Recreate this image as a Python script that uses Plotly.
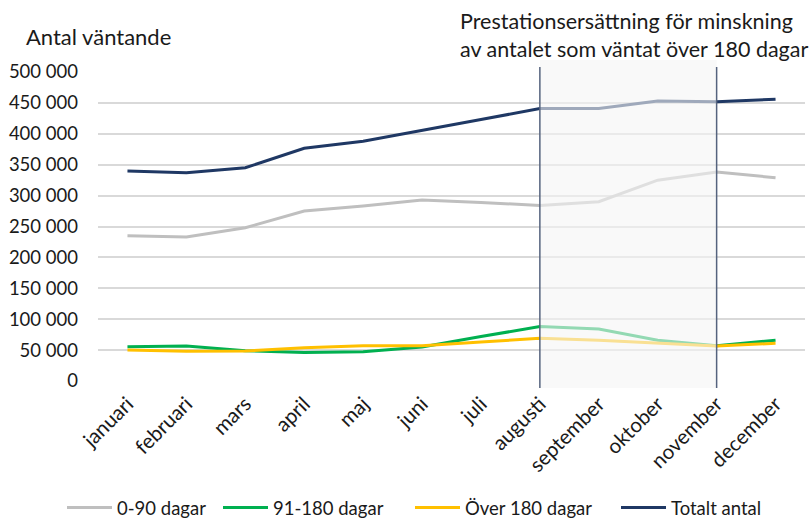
import plotly.graph_objects as go

months = ["januari", "februari", "mars", "april", "maj", "juni", "juli",
          "augusti", "september", "oktober", "november", "december"]
d0_90 = [235000, 233000, 248000, 275000, 283000, 293000, 289000, 284000, 290000, 325000, 338000, 329000]
d91_180 = [55500, 56600, 49000, 46000, 47500, 55000, 72000, 88000, 84000, 66000, 57000, 66000]
over180 = [50000, 48000, 48500, 54000, 57000, 57000, 63000, 69000, 66000, 61000, 56600, 61000]
totalt = [340000, 337000, 345000, 376500, 388000, 405000, 423000, 441000, 441000, 453000, 452000, 456000]
y_ticks = [0, 50000, 100000, 150000, 200000, 250000, 300000, 350000, 400000, 450000, 500000]
y_ticktext = ["0", "50 000", "100 000", "150 000", "200 000", "250 000", "300 000",
              "350 000", "400 000", "450 000", "500 000"]
series = [
    ("0-90 dagar", d0_90, "#bfbfbf"),
    ("91-180 dagar", d91_180, "#00b050"),
    ("Över 180 dagar", over180, "#ffc000"),
    ("Totalt antal", totalt, "#1f3864"),
]

FONT = "Lato, 'Open Sans', sans-serif"
L, R, T, B = 98, 5, 72, 140
W, H = 810, 521
pw = W - L - R
ph = H - T - B
legend_px = [62, 218, 410, 616]   # left pixel of each legend entry
legend_cy = 508                   # vertical centre of the legend row

fig = go.Figure()
layout_legends = {}
for i, (name, vals, col) in enumerate(series):
    lname = "legend" if i == 0 else f"legend{i+1}"
    fig.add_trace(go.Scatter(x=months, y=vals, name=name, mode="lines",
                             line=dict(color=col, width=3), legend=lname))
    layout_legends[lname] = dict(
        x=(legend_px[i] - L) / pw, xanchor="left",
        yref="paper", y=-(legend_cy - (T + ph)) / ph, yanchor="middle",
        font=dict(size=18.5, family=FONT, color="#1a1a1a"),
        bgcolor="rgba(0,0,0,0)", itemwidth=45)

x_start = months.index("augusti")
x_end = months.index("november")

fig.add_shape(type="rect", xref="x", yref="paper", x0=x_start, x1=x_end,
              y0=-0.023, y1=1.039, layer="above",
              fillcolor="rgba(245,245,245,0.6)", line=dict(width=0))
for xv in (x_start, x_end):
    fig.add_shape(type="line", xref="x", yref="paper", x0=xv, x1=xv,
                  y0=-0.023, y1=1.016, layer="above",
                  line=dict(color="#55637e", width=1.5))

fig.add_annotation(xref="paper", yref="paper", x=(458 - L) / pw, y=1.027,
                   xanchor="left", yanchor="bottom", align="left", showarrow=False,
                   text="Prestationsersättning för minskning<br>av antalet som väntat över 180 dagar",
                   font=dict(size=21.5, color="#1a1a1a", family=FONT))
fig.add_annotation(xref="paper", yref="paper", x=(24 - L) / pw, y=1.065,
                   xanchor="left", yanchor="bottom", showarrow=False,
                   text="Antal väntande", font=dict(size=22, color="#1a1a1a", family=FONT))

fig.update_layout(
    width=W, height=H,
    margin=dict(l=L, r=R, t=T, b=B, autoexpand=False),
    paper_bgcolor="white", plot_bgcolor="white",
    font=dict(family=FONT, size=18, color="#1a1a1a"),
    showlegend=True,
    xaxis=dict(tickangle=-45, showgrid=False, showline=False, ticks="",
               tickfont=dict(size=20.5), range=[-0.5, 11.5], automargin=False,
               ticklabelstandoff=6),
    yaxis=dict(range=[0, 500000], tickvals=y_ticks, ticktext=y_ticktext,
               showgrid=True, gridcolor="#d9d9d9", gridwidth=1.5, zeroline=False,
               showline=False, ticks="", tickfont=dict(size=18.5), ticklabelstandoff=19,
               automargin=False),
    **layout_legends,
)

fig.write_html("out.html", config={"displayModeBar": False},
               post_script="document.body.style.margin='0';")
